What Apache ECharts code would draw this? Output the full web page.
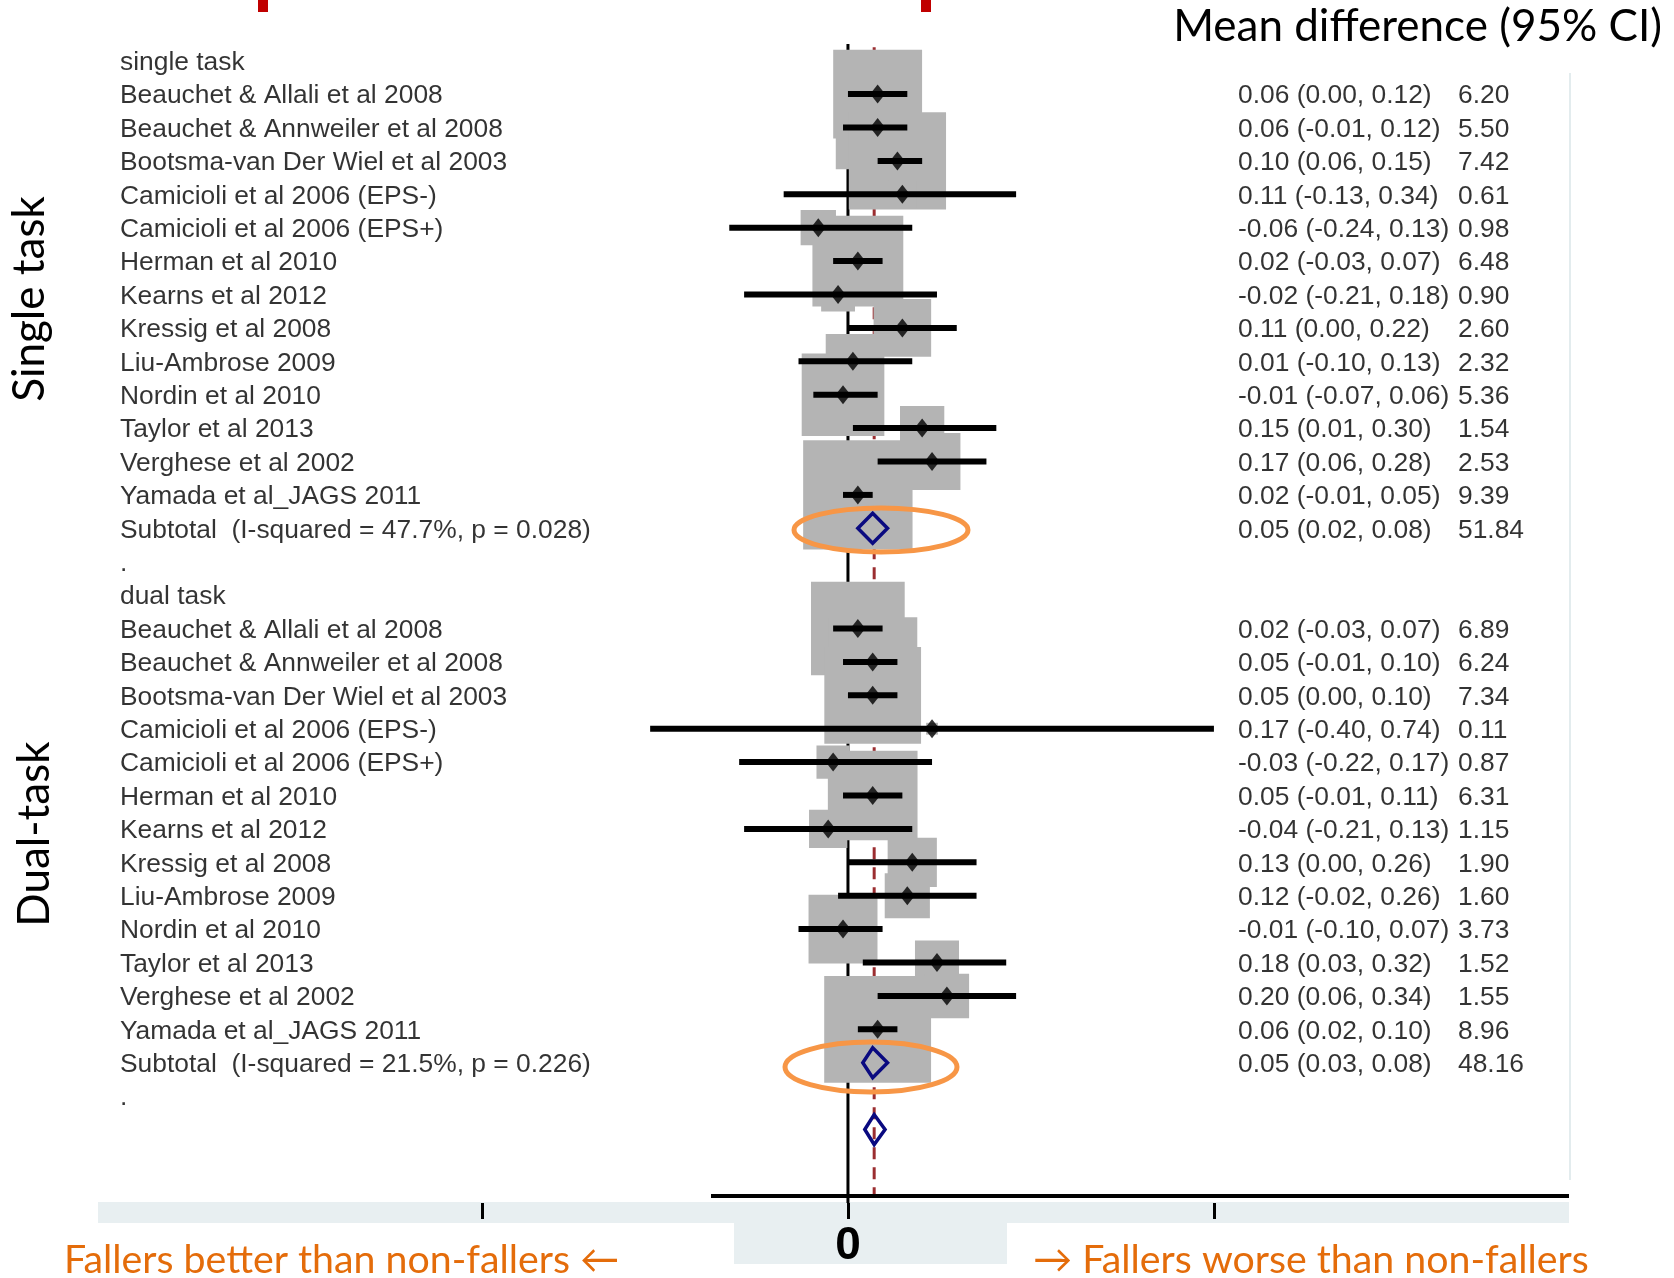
<!DOCTYPE html>
<html><head><meta charset="utf-8">
<script src="https://cdn.jsdelivr.net/npm/echarts@6/dist/echarts.min.js"></script>
<style>html,body{margin:0;padding:0;background:#fff}#chart{width:1674px;height:1278px}</style>
</head><body><div id="chart"></div>
<script>
// ---------- DATA ----------
const groupNames = ['single task', 'dual task'];
const studies = [
  'Beauchet & Allali et al 2008',
  'Beauchet & Annweiler et al 2008',
  'Bootsma-van Der Wiel et al 2003',
  'Camicioli et al 2006 (EPS-)',
  'Camicioli et al 2006 (EPS+)',
  'Herman et al 2010',
  'Kearns et al 2012',
  'Kressig et al 2008',
  'Liu-Ambrose 2009',
  'Nordin et al 2010',
  'Taylor et al 2013',
  'Verghese et al 2002',
  'Yamada et al_JAGS 2011'
];
const singleEst = [0.06, 0.06, 0.10, 0.11, -0.06, 0.02, -0.02, 0.11, 0.01, -0.01, 0.15, 0.17, 0.02];
const singleLo  = [0.00, -0.01, 0.06, -0.13, -0.24, -0.03, -0.21, 0.00, -0.10, -0.07, 0.01, 0.06, -0.01];
const singleHi  = [0.12, 0.12, 0.15, 0.34, 0.13, 0.07, 0.18, 0.22, 0.13, 0.06, 0.30, 0.28, 0.05];
const singleW   = [6.20, 5.50, 7.42, 0.61, 0.98, 6.48, 0.90, 2.60, 2.32, 5.36, 1.54, 2.53, 9.39];

const dualEst = [0.02, 0.05, 0.05, 0.17, -0.03, 0.05, -0.04, 0.13, 0.12, -0.01, 0.18, 0.20, 0.06];
const dualLo  = [-0.03, -0.01, 0.00, -0.40, -0.22, -0.01, -0.21, 0.00, -0.02, -0.10, 0.03, 0.06, 0.02];
const dualHi  = [0.07, 0.10, 0.10, 0.74, 0.17, 0.11, 0.13, 0.26, 0.26, 0.07, 0.32, 0.34, 0.10];
const dualW   = [6.89, 6.24, 7.34, 0.11, 0.87, 6.31, 1.15, 1.90, 1.60, 3.73, 1.52, 1.55, 8.96];

const subtotalLabels = ['Subtotal  (I-squared = 47.7%, p = 0.028)', 'Subtotal  (I-squared = 21.5%, p = 0.226)'];
const subtotalEst = [0.05, 0.05];
const subtotalLo  = [0.02, 0.03];
const subtotalHi  = [0.08, 0.08];
const subtotalW   = [51.84, 48.16];

const overallEst = 0.053, overallLo = 0.034, overallHi = 0.075;
const xTickValues = [-0.74, 0, 0.74];
const xLabelValues = [0];

// ---------- ROW LAYOUT (row index on y axis) ----------
const groups = [
  {est: singleEst, lo: singleLo, hi: singleHi, w: singleW},
  {est: dualEst, lo: dualLo, hi: dualHi, w: dualW}
];
const studyRows = [], subRows = [], textRows = [];
groups.forEach((g, gi) => {
  const start = gi * 16;
  textRows.push({row: start, name: groupNames[gi], stat: '', wt: ''});
  studies.forEach((s, i) => {
    const r = {row: start + 1 + i, name: s, est: g.est[i], lo: g.lo[i], hi: g.hi[i], w: g.w[i]};
    studyRows.push(r);
    textRows.push({row: r.row, name: s,
      stat: r.est.toFixed(2) + ' (' + r.lo.toFixed(2) + ', ' + r.hi.toFixed(2) + ')',
      wt: r.w.toFixed(2)});
  });
  const sr = {row: start + 14, est: subtotalEst[gi], lo: subtotalLo[gi], hi: subtotalHi[gi]};
  subRows.push(sr);
  textRows.push({row: sr.row, name: subtotalLabels[gi],
    stat: sr.est.toFixed(2) + ' (' + sr.lo.toFixed(2) + ', ' + sr.hi.toFixed(2) + ')',
    wt: subtotalW[gi].toFixed(2)});
  textRows.push({row: start + 15, name: '.', stat: '', wt: ''});
});
subRows.push({row: 32, est: overallEst, lo: overallLo, hi: overallHi});

// ---------- CHART ----------
const chart = echarts.init(document.getElementById('chart'), null, {renderer: 'canvas'});
const txtFont = 'Liberation Sans, Arial, sans-serif';
const slideFont = 'Lato, Carlito, Calibri, sans-serif';
const textSeries = (key, dx) => ({
  type: 'scatter', silent: true, z: 6,
  symbolSize: 1, itemStyle: {color: 'rgba(0,0,0,0)'},
  data: textRows.filter(t => t[key] !== '').map(t => ({value: [0, t.row], label: {formatter: t[key]}})),
  label: {show: true, position: 'inside', offset: [dx, 2], align: 'left', verticalAlign: 'middle',
    fontFamily: txtFont, fontSize: 26.4, color: '#000'}
});

chart.setOption({
  animation: false,
  backgroundColor: '#fff',
  grid: {left: 482, right: 104, top: 44, bottom: 75},
  xAxis: {
    type: 'value', position: 'bottom', min: -0.74, max: 1.46, interval: 0.74, z: 10,
    axisLine: {show: false, onZero: false}, splitLine: {show: false},
    axisTick: {show: true, customValues: xTickValues, length: 16, lineStyle: {color: '#000', width: 3}},
    axisLabel: {show: true, customValues: xLabelValues,
      formatter: v => (Math.abs(v) < 1e-9 ? '0' : ''),
      fontSize: 46, fontWeight: 'bold', color: '#000', margin: 20, fontFamily: txtFont}
  },
  yAxis: {type: 'value', inverse: true, min: -0.5, max: 34.2, show: false},
  series: [
    {type: 'line', silent: true, z: 1, symbol: 'none',
      data: [[0, -0.5], [0, 34.2]], lineStyle: {color: '#000', width: 3}},
    {type: 'line', silent: true, z: 1, symbol: 'none',
      data: [[overallEst, -0.4], [overallEst, 34.0]], lineStyle: {color: '#9b2d30', width: 3, type: [12, 8]}},
    {type: 'scatter', silent: true, z: 2, symbol: 'rect',
      data: studyRows.map(r => [r.est, r.row, r.w]),
      symbolSize: d => 35.7 * Math.sqrt(d[2]),
      itemStyle: {color: '#b4b4b4', opacity: 1}},
    {type: 'custom', silent: true, z: 3,
      encode: {x: [0, 1], y: 2},
      data: studyRows.map(r => [r.lo, r.hi, r.row]),
      renderItem: (params, api) => {
        const a = api.coord([api.value(0), api.value(2)]);
        const b = api.coord([api.value(1), api.value(2)]);
        return {type: 'line', shape: {x1: a[0], y1: a[1], x2: b[0], y2: b[1]},
          style: {stroke: '#000', lineWidth: 6}};
      }},
    {type: 'scatter', silent: true, z: 4, symbol: 'diamond', symbolSize: [15, 19],
      data: studyRows.map(r => [r.est, r.row]), itemStyle: {color: '#000'}},
    {type: 'custom', silent: true, z: 5,
      encode: {x: [0, 1, 2], y: 3},
      data: subRows.map(r => [r.lo, r.est, r.hi, r.row]),
      renderItem: (params, api) => {
        const row = api.value(3);
        const l = api.coord([api.value(0), row]);
        const c = api.coord([api.value(1), row]);
        const h = api.coord([api.value(2), row]);
        return {type: 'polygon',
          shape: {points: [[l[0], c[1]], [c[0], c[1] - 15], [h[0], c[1]], [c[0], c[1] + 15]]},
          style: {fill: 'none', stroke: '#0a0a80', lineWidth: 3.5}};
      }},
    textSeries('name', 120 - 848),
    textSeries('stat', 1238 - 848),
    textSeries('wt', 1458 - 848)
  ],
  graphic: [
    {type: 'rect', z: 1, shape: {x: 98, y: 1202, width: 1471, height: 21}, style: {fill: '#e8eff1'}},
    {type: 'rect', z: 1, shape: {x: 734, y: 1223, width: 273, height: 41}, style: {fill: '#e8eff1'}},
    {type: 'line', z: 50, shape: {x1: 711, y1: 1196, x2: 1569, y2: 1196}, style: {stroke: '#000', lineWidth: 4}},
    {type: 'line', z: 1, shape: {x1: 1570, y1: 73, x2: 1570, y2: 1180}, style: {stroke: '#e3ecee', lineWidth: 2}},
    {type: 'rect', z: 50, shape: {x: 258, y: 0, width: 10, height: 12}, style: {fill: '#c00000'}},
    {type: 'rect', z: 50, shape: {x: 921, y: 0, width: 10, height: 12}, style: {fill: '#c00000'}},
    {type: 'ellipse', z: 100, shape: {cx: 881, cy: 530, rx: 87, ry: 22}, style: {fill: 'none', stroke: '#f79646', lineWidth: 5}},
    {type: 'ellipse', z: 100, shape: {cx: 871, cy: 1067, rx: 86, ry: 25}, style: {fill: 'none', stroke: '#f79646', lineWidth: 5}},
    {type: 'text', z: 100, x: 1662, y: 27, style: {text: 'Mean difference (95% CI)', fontFamily: slideFont, fontSize: 44, fill: '#000', align: 'right', verticalAlign: 'middle'}},
    {type: 'text', z: 100, x: 30, y: 299, rotation: Math.PI / 2, style: {text: 'Single task', fontFamily: slideFont, fontSize: 44, fill: '#000', align: 'center', verticalAlign: 'middle'}},
    {type: 'text', z: 100, x: 35, y: 834, rotation: Math.PI / 2, style: {text: 'Dual-task', fontFamily: slideFont, fontSize: 44, fill: '#000', align: 'center', verticalAlign: 'middle'}},
    {type: 'text', z: 100, x: 64, y: 1260, style: {text: 'Fallers better than non-fallers \u2190', fontFamily: slideFont, fontSize: 39.3, fill: '#e46c0a', align: 'left', verticalAlign: 'middle'}},
    {type: 'text', z: 100, x: 1033, y: 1260, style: {text: '\u2192 Fallers worse than non-fallers', fontFamily: slideFont, fontSize: 39.3, fill: '#e46c0a', align: 'left', verticalAlign: 'middle'}}
  ]
});
</script>
</body></html>
